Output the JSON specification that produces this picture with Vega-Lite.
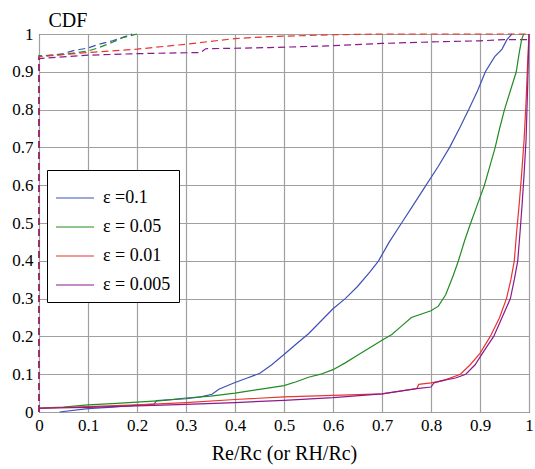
{
  "$schema": "https://vega.github.io/schema/vega-lite/v6.json",
  "width": 490,
  "height": 378,
  "autosize": {"type": "none"},
  "padding": {"left": 39, "top": 34, "right": 6, "bottom": 57},
  "background": "white",
  "config": {
    "font": "Liberation Serif",
    "view": {"stroke": "black", "strokeWidth": 1},
    "axis": {
      "labelFont": "Liberation Serif",
      "titleFont": "Liberation Serif",
      "labelFontSize": 17,
      "labelColor": "black",
      "titleFontWeight": "normal",
      "titleColor": "black",
      "ticks": false,
      "domain": false,
      "gridColor": "#a0a0a0",
      "gridWidth": 1.2,
      "gridOpacity": 1,
      "labelFlush": false
    },
    "legend": {
      "labelFont": "Liberation Serif",
      "labelFontSize": 18,
      "labelColor": "black"
    }
  },
  "data": {
    "values": [
      {"s": "ε =0.1", "k": "solid", "i": 0, "x": 0.042, "y": 0},
      {"s": "ε =0.1", "k": "solid", "i": 1, "x": 0.1, "y": 0.009},
      {"s": "ε =0.1", "k": "solid", "i": 2, "x": 0.15, "y": 0.013},
      {"s": "ε =0.1", "k": "solid", "i": 3, "x": 0.2, "y": 0.018},
      {"s": "ε =0.1", "k": "solid", "i": 4, "x": 0.235, "y": 0.021},
      {"s": "ε =0.1", "k": "solid", "i": 5, "x": 0.24, "y": 0.03},
      {"s": "ε =0.1", "k": "solid", "i": 6, "x": 0.3, "y": 0.035},
      {"s": "ε =0.1", "k": "solid", "i": 7, "x": 0.33, "y": 0.04},
      {"s": "ε =0.1", "k": "solid", "i": 8, "x": 0.353, "y": 0.047},
      {"s": "ε =0.1", "k": "solid", "i": 9, "x": 0.367, "y": 0.06},
      {"s": "ε =0.1", "k": "solid", "i": 10, "x": 0.4, "y": 0.078},
      {"s": "ε =0.1", "k": "solid", "i": 11, "x": 0.425, "y": 0.09},
      {"s": "ε =0.1", "k": "solid", "i": 12, "x": 0.45, "y": 0.102},
      {"s": "ε =0.1", "k": "solid", "i": 13, "x": 0.475, "y": 0.125},
      {"s": "ε =0.1", "k": "solid", "i": 14, "x": 0.5, "y": 0.152},
      {"s": "ε =0.1", "k": "solid", "i": 15, "x": 0.525, "y": 0.18},
      {"s": "ε =0.1", "k": "solid", "i": 16, "x": 0.55, "y": 0.207},
      {"s": "ε =0.1", "k": "solid", "i": 17, "x": 0.575, "y": 0.24},
      {"s": "ε =0.1", "k": "solid", "i": 18, "x": 0.6, "y": 0.273},
      {"s": "ε =0.1", "k": "solid", "i": 19, "x": 0.625, "y": 0.3},
      {"s": "ε =0.1", "k": "solid", "i": 20, "x": 0.65, "y": 0.332},
      {"s": "ε =0.1", "k": "solid", "i": 21, "x": 0.675, "y": 0.37},
      {"s": "ε =0.1", "k": "solid", "i": 22, "x": 0.693, "y": 0.4},
      {"s": "ε =0.1", "k": "solid", "i": 23, "x": 0.715, "y": 0.45},
      {"s": "ε =0.1", "k": "solid", "i": 24, "x": 0.74, "y": 0.5},
      {"s": "ε =0.1", "k": "solid", "i": 25, "x": 0.765, "y": 0.55},
      {"s": "ε =0.1", "k": "solid", "i": 26, "x": 0.79, "y": 0.6},
      {"s": "ε =0.1", "k": "solid", "i": 27, "x": 0.815, "y": 0.65},
      {"s": "ε =0.1", "k": "solid", "i": 28, "x": 0.838, "y": 0.7},
      {"s": "ε =0.1", "k": "solid", "i": 29, "x": 0.858, "y": 0.75},
      {"s": "ε =0.1", "k": "solid", "i": 30, "x": 0.877, "y": 0.8},
      {"s": "ε =0.1", "k": "solid", "i": 31, "x": 0.895, "y": 0.85},
      {"s": "ε =0.1", "k": "solid", "i": 32, "x": 0.911, "y": 0.9},
      {"s": "ε =0.1", "k": "solid", "i": 33, "x": 0.93, "y": 0.94},
      {"s": "ε =0.1", "k": "solid", "i": 34, "x": 0.945, "y": 0.96},
      {"s": "ε =0.1", "k": "solid", "i": 35, "x": 0.955, "y": 0.985},
      {"s": "ε =0.1", "k": "solid", "i": 36, "x": 0.965, "y": 1},

      {"s": "ε = 0.05", "k": "solid", "i": 0, "x": 0, "y": 0.01},
      {"s": "ε = 0.05", "k": "solid", "i": 1, "x": 0.05, "y": 0.013},
      {"s": "ε = 0.05", "k": "solid", "i": 2, "x": 0.1, "y": 0.019},
      {"s": "ε = 0.05", "k": "solid", "i": 3, "x": 0.15, "y": 0.022},
      {"s": "ε = 0.05", "k": "solid", "i": 4, "x": 0.2, "y": 0.026},
      {"s": "ε = 0.05", "k": "solid", "i": 5, "x": 0.25, "y": 0.03},
      {"s": "ε = 0.05", "k": "solid", "i": 6, "x": 0.3, "y": 0.037},
      {"s": "ε = 0.05", "k": "solid", "i": 7, "x": 0.35, "y": 0.042},
      {"s": "ε = 0.05", "k": "solid", "i": 8, "x": 0.4, "y": 0.05},
      {"s": "ε = 0.05", "k": "solid", "i": 9, "x": 0.45, "y": 0.06},
      {"s": "ε = 0.05", "k": "solid", "i": 10, "x": 0.5, "y": 0.07},
      {"s": "ε = 0.05", "k": "solid", "i": 11, "x": 0.525, "y": 0.08},
      {"s": "ε = 0.05", "k": "solid", "i": 12, "x": 0.55, "y": 0.092},
      {"s": "ε = 0.05", "k": "solid", "i": 13, "x": 0.575, "y": 0.1},
      {"s": "ε = 0.05", "k": "solid", "i": 14, "x": 0.6, "y": 0.112},
      {"s": "ε = 0.05", "k": "solid", "i": 15, "x": 0.625, "y": 0.13},
      {"s": "ε = 0.05", "k": "solid", "i": 16, "x": 0.65, "y": 0.15},
      {"s": "ε = 0.05", "k": "solid", "i": 17, "x": 0.675, "y": 0.17},
      {"s": "ε = 0.05", "k": "solid", "i": 18, "x": 0.7, "y": 0.19},
      {"s": "ε = 0.05", "k": "solid", "i": 19, "x": 0.72, "y": 0.205},
      {"s": "ε = 0.05", "k": "solid", "i": 20, "x": 0.735, "y": 0.222},
      {"s": "ε = 0.05", "k": "solid", "i": 21, "x": 0.76, "y": 0.25},
      {"s": "ε = 0.05", "k": "solid", "i": 22, "x": 0.8, "y": 0.268},
      {"s": "ε = 0.05", "k": "solid", "i": 23, "x": 0.815, "y": 0.28},
      {"s": "ε = 0.05", "k": "solid", "i": 24, "x": 0.83, "y": 0.31},
      {"s": "ε = 0.05", "k": "solid", "i": 25, "x": 0.845, "y": 0.36},
      {"s": "ε = 0.05", "k": "solid", "i": 26, "x": 0.856, "y": 0.4},
      {"s": "ε = 0.05", "k": "solid", "i": 27, "x": 0.869, "y": 0.455},
      {"s": "ε = 0.05", "k": "solid", "i": 28, "x": 0.881, "y": 0.5},
      {"s": "ε = 0.05", "k": "solid", "i": 29, "x": 0.895, "y": 0.55},
      {"s": "ε = 0.05", "k": "solid", "i": 30, "x": 0.909, "y": 0.6},
      {"s": "ε = 0.05", "k": "solid", "i": 31, "x": 0.92, "y": 0.65},
      {"s": "ε = 0.05", "k": "solid", "i": 32, "x": 0.931, "y": 0.7},
      {"s": "ε = 0.05", "k": "solid", "i": 33, "x": 0.94, "y": 0.75},
      {"s": "ε = 0.05", "k": "solid", "i": 34, "x": 0.95, "y": 0.8},
      {"s": "ε = 0.05", "k": "solid", "i": 35, "x": 0.962, "y": 0.85},
      {"s": "ε = 0.05", "k": "solid", "i": 36, "x": 0.974, "y": 0.9},
      {"s": "ε = 0.05", "k": "solid", "i": 37, "x": 0.98, "y": 0.95},
      {"s": "ε = 0.05", "k": "solid", "i": 38, "x": 0.985, "y": 0.985},
      {"s": "ε = 0.05", "k": "solid", "i": 39, "x": 0.989, "y": 1},

      {"s": "ε = 0.01", "k": "solid", "i": 0, "x": 0, "y": 0},
      {"s": "ε = 0.01", "k": "solid", "i": 1, "x": 0, "y": 0.01},
      {"s": "ε = 0.01", "k": "solid", "i": 2, "x": 0.1, "y": 0.014},
      {"s": "ε = 0.01", "k": "solid", "i": 3, "x": 0.2, "y": 0.019},
      {"s": "ε = 0.01", "k": "solid", "i": 4, "x": 0.3, "y": 0.025},
      {"s": "ε = 0.01", "k": "solid", "i": 5, "x": 0.4, "y": 0.033},
      {"s": "ε = 0.01", "k": "solid", "i": 6, "x": 0.5, "y": 0.04},
      {"s": "ε = 0.01", "k": "solid", "i": 7, "x": 0.6, "y": 0.044},
      {"s": "ε = 0.01", "k": "solid", "i": 8, "x": 0.7, "y": 0.048},
      {"s": "ε = 0.01", "k": "solid", "i": 9, "x": 0.771, "y": 0.062},
      {"s": "ε = 0.01", "k": "solid", "i": 10, "x": 0.775, "y": 0.073},
      {"s": "ε = 0.01", "k": "solid", "i": 11, "x": 0.8, "y": 0.077},
      {"s": "ε = 0.01", "k": "solid", "i": 12, "x": 0.825, "y": 0.083},
      {"s": "ε = 0.01", "k": "solid", "i": 13, "x": 0.86, "y": 0.1},
      {"s": "ε = 0.01", "k": "solid", "i": 14, "x": 0.88, "y": 0.125},
      {"s": "ε = 0.01", "k": "solid", "i": 15, "x": 0.9, "y": 0.155},
      {"s": "ε = 0.01", "k": "solid", "i": 16, "x": 0.921, "y": 0.2},
      {"s": "ε = 0.01", "k": "solid", "i": 17, "x": 0.94, "y": 0.25},
      {"s": "ε = 0.01", "k": "solid", "i": 18, "x": 0.954, "y": 0.3},
      {"s": "ε = 0.01", "k": "solid", "i": 19, "x": 0.963, "y": 0.35},
      {"s": "ε = 0.01", "k": "solid", "i": 20, "x": 0.97, "y": 0.4},
      {"s": "ε = 0.01", "k": "solid", "i": 21, "x": 0.975, "y": 0.48},
      {"s": "ε = 0.01", "k": "solid", "i": 22, "x": 0.98, "y": 0.55},
      {"s": "ε = 0.01", "k": "solid", "i": 23, "x": 0.985, "y": 0.63},
      {"s": "ε = 0.01", "k": "solid", "i": 24, "x": 0.99, "y": 0.72},
      {"s": "ε = 0.01", "k": "solid", "i": 25, "x": 0.994, "y": 0.82},
      {"s": "ε = 0.01", "k": "solid", "i": 26, "x": 0.997, "y": 0.92},
      {"s": "ε = 0.01", "k": "solid", "i": 27, "x": 1, "y": 1},

      {"s": "ε = 0.005", "k": "solid", "i": 0, "x": 0, "y": 0},
      {"s": "ε = 0.005", "k": "solid", "i": 1, "x": 0, "y": 0.01},
      {"s": "ε = 0.005", "k": "solid", "i": 2, "x": 0.1, "y": 0.012},
      {"s": "ε = 0.005", "k": "solid", "i": 3, "x": 0.2, "y": 0.016},
      {"s": "ε = 0.005", "k": "solid", "i": 4, "x": 0.3, "y": 0.02},
      {"s": "ε = 0.005", "k": "solid", "i": 5, "x": 0.4, "y": 0.025},
      {"s": "ε = 0.005", "k": "solid", "i": 6, "x": 0.5, "y": 0.031},
      {"s": "ε = 0.005", "k": "solid", "i": 7, "x": 0.6, "y": 0.038},
      {"s": "ε = 0.005", "k": "solid", "i": 8, "x": 0.7, "y": 0.048},
      {"s": "ε = 0.005", "k": "solid", "i": 9, "x": 0.771, "y": 0.062},
      {"s": "ε = 0.005", "k": "solid", "i": 10, "x": 0.8, "y": 0.066},
      {"s": "ε = 0.005", "k": "solid", "i": 11, "x": 0.806, "y": 0.077},
      {"s": "ε = 0.005", "k": "solid", "i": 12, "x": 0.822, "y": 0.083},
      {"s": "ε = 0.005", "k": "solid", "i": 13, "x": 0.85, "y": 0.09},
      {"s": "ε = 0.005", "k": "solid", "i": 14, "x": 0.871, "y": 0.1},
      {"s": "ε = 0.005", "k": "solid", "i": 15, "x": 0.89, "y": 0.125},
      {"s": "ε = 0.005", "k": "solid", "i": 16, "x": 0.9, "y": 0.145},
      {"s": "ε = 0.005", "k": "solid", "i": 17, "x": 0.915, "y": 0.175},
      {"s": "ε = 0.005", "k": "solid", "i": 18, "x": 0.928, "y": 0.2},
      {"s": "ε = 0.005", "k": "solid", "i": 19, "x": 0.945, "y": 0.25},
      {"s": "ε = 0.005", "k": "solid", "i": 20, "x": 0.962, "y": 0.3},
      {"s": "ε = 0.005", "k": "solid", "i": 21, "x": 0.97, "y": 0.35},
      {"s": "ε = 0.005", "k": "solid", "i": 22, "x": 0.977, "y": 0.4},
      {"s": "ε = 0.005", "k": "solid", "i": 23, "x": 0.982, "y": 0.48},
      {"s": "ε = 0.005", "k": "solid", "i": 24, "x": 0.986, "y": 0.55},
      {"s": "ε = 0.005", "k": "solid", "i": 25, "x": 0.99, "y": 0.63},
      {"s": "ε = 0.005", "k": "solid", "i": 26, "x": 0.994, "y": 0.72},
      {"s": "ε = 0.005", "k": "solid", "i": 27, "x": 0.997, "y": 0.85},
      {"s": "ε = 0.005", "k": "solid", "i": 28, "x": 0.999, "y": 0.95},
      {"s": "ε = 0.005", "k": "solid", "i": 29, "x": 1, "y": 1},

      {"s": "ε =0.1", "k": "dashed", "i": 0, "x": 0, "y": 0},
      {"s": "ε =0.1", "k": "dashed", "i": 1, "x": 0, "y": 0.942},
      {"s": "ε =0.1", "k": "dashed", "i": 2, "x": 0.03, "y": 0.944},
      {"s": "ε =0.1", "k": "dashed", "i": 3, "x": 0.05, "y": 0.948},
      {"s": "ε =0.1", "k": "dashed", "i": 4, "x": 0.07, "y": 0.956},
      {"s": "ε =0.1", "k": "dashed", "i": 5, "x": 0.1, "y": 0.963},
      {"s": "ε =0.1", "k": "dashed", "i": 6, "x": 0.12, "y": 0.972},
      {"s": "ε =0.1", "k": "dashed", "i": 7, "x": 0.15, "y": 0.982},
      {"s": "ε =0.1", "k": "dashed", "i": 8, "x": 0.18, "y": 0.995},
      {"s": "ε =0.1", "k": "dashed", "i": 9, "x": 0.19, "y": 1},

      {"s": "ε = 0.05", "k": "dashed", "i": 0, "x": 0, "y": 0},
      {"s": "ε = 0.05", "k": "dashed", "i": 1, "x": 0, "y": 0.942},
      {"s": "ε = 0.05", "k": "dashed", "i": 2, "x": 0.05, "y": 0.946},
      {"s": "ε = 0.05", "k": "dashed", "i": 3, "x": 0.1, "y": 0.955},
      {"s": "ε = 0.05", "k": "dashed", "i": 4, "x": 0.12, "y": 0.963},
      {"s": "ε = 0.05", "k": "dashed", "i": 5, "x": 0.15, "y": 0.978},
      {"s": "ε = 0.05", "k": "dashed", "i": 6, "x": 0.17, "y": 0.99},
      {"s": "ε = 0.05", "k": "dashed", "i": 7, "x": 0.2, "y": 1},

      {"s": "ε = 0.01", "k": "dashed", "i": 0, "x": 0, "y": 0},
      {"s": "ε = 0.01", "k": "dashed", "i": 1, "x": 0, "y": 0.94},
      {"s": "ε = 0.01", "k": "dashed", "i": 2, "x": 0.1, "y": 0.951},
      {"s": "ε = 0.01", "k": "dashed", "i": 3, "x": 0.2, "y": 0.96},
      {"s": "ε = 0.01", "k": "dashed", "i": 4, "x": 0.3, "y": 0.973},
      {"s": "ε = 0.01", "k": "dashed", "i": 5, "x": 0.4, "y": 0.988},
      {"s": "ε = 0.01", "k": "dashed", "i": 6, "x": 0.47, "y": 0.993},
      {"s": "ε = 0.01", "k": "dashed", "i": 7, "x": 0.6, "y": 0.998},
      {"s": "ε = 0.01", "k": "dashed", "i": 8, "x": 0.7, "y": 1},
      {"s": "ε = 0.01", "k": "dashed", "i": 9, "x": 1, "y": 1},

      {"s": "ε = 0.005", "k": "dashed", "i": 0, "x": 0, "y": 0},
      {"s": "ε = 0.005", "k": "dashed", "i": 1, "x": 0, "y": 0.935},
      {"s": "ε = 0.005", "k": "dashed", "i": 2, "x": 0.1, "y": 0.944},
      {"s": "ε = 0.005", "k": "dashed", "i": 3, "x": 0.2, "y": 0.948},
      {"s": "ε = 0.005", "k": "dashed", "i": 4, "x": 0.33, "y": 0.951},
      {"s": "ε = 0.005", "k": "dashed", "i": 5, "x": 0.34, "y": 0.961},
      {"s": "ε = 0.005", "k": "dashed", "i": 6, "x": 0.47, "y": 0.964},
      {"s": "ε = 0.005", "k": "dashed", "i": 7, "x": 0.6, "y": 0.969},
      {"s": "ε = 0.005", "k": "dashed", "i": 8, "x": 0.7, "y": 0.975},
      {"s": "ε = 0.005", "k": "dashed", "i": 9, "x": 0.8, "y": 0.979},
      {"s": "ε = 0.005", "k": "dashed", "i": 10, "x": 0.9, "y": 0.982},
      {"s": "ε = 0.005", "k": "dashed", "i": 11, "x": 0.95, "y": 0.985},
      {"s": "ε = 0.005", "k": "dashed", "i": 12, "x": 1, "y": 0.985}
    ]
  },
  "encoding": {
    "x": {
      "field": "x",
      "type": "quantitative",
      "scale": {"domain": [0, 1], "nice": false, "zero": false},
      "axis": {
        "values": [0, 0.1, 0.2, 0.3, 0.4, 0.5, 0.6, 0.7, 0.8, 0.9, 1],
        "format": "~g",
        "labelPadding": 5,
        "title": "Re/Rc (or RH/Rc)",
        "titleFontSize": 20,
        "titlePadding": 10
      }
    },
    "y": {
      "field": "y",
      "type": "quantitative",
      "scale": {"domain": [0, 1], "nice": false, "zero": false},
      "axis": {
        "values": [0, 0.1, 0.2, 0.3, 0.4, 0.5, 0.6, 0.7, 0.8, 0.9, 1],
        "format": "~g",
        "labelPadding": 6,
        "title": "CDF",
        "titleFontSize": 20,
        "titleAngle": 0,
        "titleAlign": "left",
        "titleBaseline": "alphabetic",
        "titleX": 9,
        "titleY": -8
      }
    },
    "order": {"field": "i", "type": "quantitative"}
  },
  "resolve": {"legend": {"color": "independent"}},
  "layer": [
    {
      "transform": [{"filter": "datum.k == 'dashed'"}],
      "mark": {"type": "line", "strokeWidth": 1.2, "strokeDash": [7, 4]},
      "encoding": {
        "color": {
          "field": "s",
          "type": "nominal",
          "scale": {
            "domain": ["ε =0.1", "ε = 0.05", "ε = 0.01", "ε = 0.005"],
            "range": ["#3f51b5", "#228b22", "#e8352e", "#8b1a8b"]
          },
          "legend": null
        }
      }
    },
    {
      "transform": [{"filter": "datum.k == 'solid'"}],
      "mark": {"type": "line", "strokeWidth": 1.2},
      "encoding": {
        "color": {
          "field": "s",
          "type": "nominal",
          "scale": {
            "domain": ["ε =0.1", "ε = 0.05", "ε = 0.01", "ε = 0.005"],
            "range": ["#3f51b5", "#228b22", "#e8352e", "#8b1a8b"]
          },
          "legend": {
            "title": null,
            "orient": "none",
            "legendX": 8,
            "legendY": 136,
            "symbolType": "stroke",
            "symbolSize": 1444,
            "symbolStrokeWidth": 1.2,
            "labelOffset": 8,
            "rowPadding": -12,
            "padding": 8,
            "strokeColor": "black",
            "fillColor": "white",
            "cornerRadius": 0
          }
        }
      }
    }
  ]
}
